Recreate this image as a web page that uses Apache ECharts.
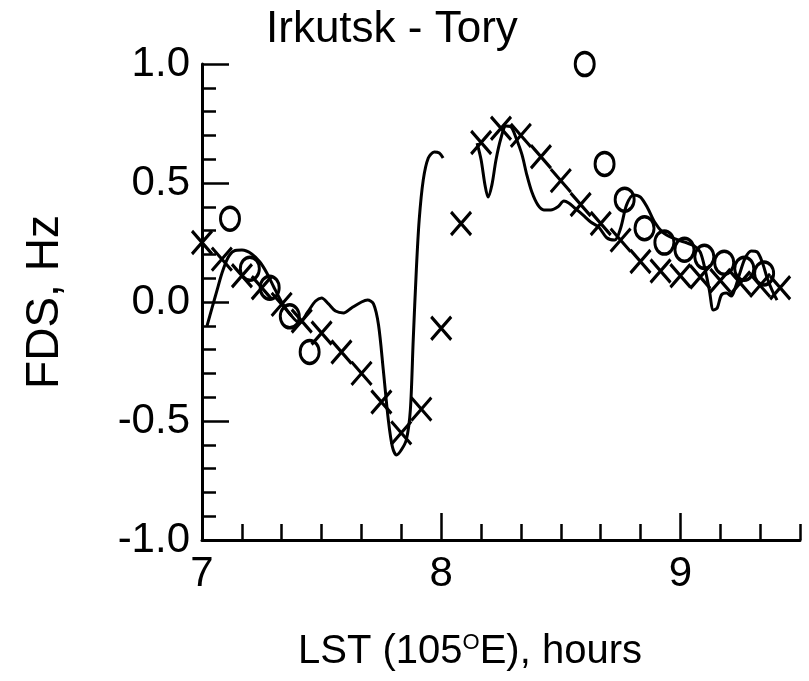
<!DOCTYPE html>
<html>
<head>
<meta charset="utf-8">
<script src="https://cdn.jsdelivr.net/npm/echarts@6/dist/echarts.min.js"></script>
<style>
html,body{margin:0;padding:0;background:#fff;}
#chart{width:809px;height:681px;}
</style>
</head>
<body>
<div id="chart"></div>
<script>
// ---- data ----
var titleText = 'Irkutsk - Tory';
var xTickLabels = [7, 8, 9];
var yTickValues = [-1.0, -0.5, 0.0, 0.5, 1.0];

// "X" observations (LST hours, FDS Hz)
var xMarkT = [7.000, 7.083, 7.167, 7.250, 7.333, 7.417, 7.500, 7.583, 7.667, 7.750,
              7.833, 7.917, 8.000, 8.083, 8.167, 8.250, 8.333, 8.417, 8.500, 8.583,
              8.667, 8.750, 8.833, 8.917, 9.000, 9.083, 9.167, 9.250, 9.333, 9.417];
var xMarkV = [0.25, 0.18, 0.11, 0.06, -0.01, -0.08, -0.13, -0.21, -0.30, -0.42,
              -0.55, -0.45, -0.11, 0.33, 0.67, 0.73, 0.70, 0.61, 0.51, 0.41,
              0.33, 0.26, 0.17, 0.13, 0.11, 0.105, 0.09, 0.08, 0.07, 0.06];

// "O" observations
var oMarkT = [7.117, 7.200, 7.283, 7.367, 7.450,
              8.600, 8.683, 8.767, 8.850, 8.933, 9.017, 9.100, 9.183, 9.267, 9.350];
var oMarkV = [0.35, 0.14, 0.06, -0.06, -0.21,
              1.00, 0.58, 0.43, 0.31, 0.25, 0.22, 0.19, 0.165, 0.14, 0.12];

// model curve, segment 1
var curve1T = [7.021, 7.042, 7.063, 7.083, 7.108, 7.133, 7.167, 7.208, 7.242, 7.271,
               7.300, 7.333, 7.367, 7.408, 7.442, 7.475, 7.500, 7.529, 7.558, 7.592,
               7.625, 7.667, 7.692, 7.717, 7.738, 7.758, 7.779, 7.796, 7.813, 7.833,
               7.854, 7.871, 7.883, 7.896, 7.908, 7.925, 7.946, 7.971, 7.992, 8.008];
var curve1V = [-0.10, -0.025, 0.05, 0.12, 0.185, 0.214, 0.218, 0.202, 0.168, 0.122,
               0.063, 0.0, -0.05, -0.088, -0.042, 0.004, 0.017, -0.008, -0.038, -0.046,
               -0.025, 0.0, 0.008, -0.008, -0.097, -0.286, -0.496, -0.609, -0.643, -0.622,
               -0.58, -0.454, -0.16, 0.134, 0.345, 0.513, 0.605, 0.63, 0.626, 0.605];
// model curve, segment 2
var curve2T = [8.150, 8.167, 8.183, 8.196, 8.212, 8.229, 8.250, 8.271, 8.292, 8.313,
               8.338, 8.358, 8.379, 8.404, 8.429, 8.458, 8.488, 8.513, 8.533, 8.558,
               8.592, 8.625, 8.658, 8.692, 8.725, 8.750, 8.775, 8.804, 8.833, 8.863,
               8.892, 8.925, 8.967, 9.017, 9.058, 9.083, 9.104, 9.121, 9.138, 9.154,
               9.171, 9.192, 9.213, 9.229, 9.250, 9.271, 9.296, 9.321, 9.342, 9.363,
               9.383, 9.404];
var curve2V = [0.668, 0.597, 0.492, 0.441, 0.492, 0.597, 0.689, 0.739, 0.735, 0.689,
               0.618, 0.534, 0.462, 0.408, 0.387, 0.387, 0.40, 0.424, 0.416, 0.395,
               0.366, 0.336, 0.315, 0.27, 0.26, 0.31, 0.408, 0.45, 0.441, 0.395,
               0.336, 0.294, 0.269, 0.252, 0.235, 0.21, 0.134, 0.05, -0.034, -0.025,
               0.029, 0.038, 0.025, 0.059, 0.126, 0.185, 0.214, 0.21, 0.168, 0.10,
               0.05, 0.008];

// ---- build ----
function zip(a, b) { return a.map(function (v, i) { return [v, b[i]]; }); }
var curveData = zip(curve1T, curve1V).concat([[null, null]]).concat(zip(curve2T, curve2V));

var X_MIN = 7, X_MAX = 9.5;
var minorXTicks = [];
for (var i = 1; i < 6 * (X_MAX - X_MIN) + 0.5; i++) {
  if (i % 6 !== 0) minorXTicks.push(+(X_MIN + i / 6).toFixed(4));
}

var FONT = 'Liberation Sans, Arial, sans-serif';
var chart = echarts.init(document.getElementById('chart'), null, {renderer: 'canvas'});
chart.setOption({
  animation: false,
  backgroundColor: '#fff',
  title: {
    text: titleText,
    left: 261, top: 3,
    textStyle: {fontFamily: FONT, fontSize: 44, fontWeight: 'normal', color: '#000'}
  },
  grid: {left: 202, right: 9, top: 64, bottom: 141, containLabel: false},
  xAxis: [{
    type: 'value', min: X_MIN, max: X_MAX,
    name: '{t|LST (105}{s|O}{t|E), hours}',
    nameLocation: 'middle', nameGap: 92,
    nameTextStyle: {
      padding: [0, 62, 0, 0],
      rich: {
        t: {fontFamily: FONT, fontSize: 40, color: '#000'},
        s: {fontFamily: FONT, fontSize: 22, color: '#000', verticalAlign: 'top', padding: [0, 0, 16, 0]}
      }
    },
    axisLine: {show: true, onZero: false, lineStyle: {color: '#000', width: 3}},
    axisTick: {show: true, inside: true, length: 27, customValues: xTickLabels, lineStyle: {color: '#000', width: 2.5}},
    axisLabel: {show: true, customValues: xTickLabels, margin: 13, fontFamily: FONT, fontSize: 42, color: '#000'},
    splitLine: {show: false}
  }, {
    type: 'value', min: X_MIN, max: X_MAX, position: 'bottom',
    axisLine: {show: false, onZero: false},
    axisTick: {show: true, inside: true, length: 16, customValues: minorXTicks, lineStyle: {color: '#000', width: 2.5}},
    axisLabel: {show: false},
    splitLine: {show: false}
  }],
  yAxis: {
    type: 'value', min: -1, max: 1, interval: 0.5,
    name: 'FDS, Hz', nameLocation: 'middle', nameGap: 134,
    nameTextStyle: {fontFamily: FONT, fontSize: 46, color: '#000'},
    axisLine: {show: true, onZero: false, lineStyle: {color: '#000', width: 3}},
    axisTick: {show: true, inside: true, length: 27, lineStyle: {color: '#000', width: 2.5}},
    minorTick: {show: true, splitNumber: 5, length: 14, lineStyle: {color: '#000', width: 2.5}},
    axisLabel: {margin: 12, fontFamily: FONT, fontSize: 42, color: '#000',
      formatter: function (v) { return v.toFixed(1); }},
    splitLine: {show: false}, minorSplitLine: {show: false}
  },
  series: [{
    type: 'line', name: 'model', xAxisIndex: 0, data: curveData,
    showSymbol: false, symbol: 'none', connectNulls: false, smooth: 0.3,
    lineStyle: {color: '#000', width: 3}, z: 2
  }, {
    type: 'scatter', name: 'X', xAxisIndex: 0, data: zip(xMarkT, xMarkV),
    symbol: 'path://M0 0L20 22M20 0L0 22', symbolSize: [20, 23], symbolKeepAspect: false,
    itemStyle: {color: 'rgba(0,0,0,0)', borderColor: '#000', borderWidth: 3.2, opacity: 1}, z: 3
  }, {
    type: 'scatter', name: 'O', xAxisIndex: 0, data: zip(oMarkT, oMarkV),
    symbol: 'path://M10 0A10 12 0 1 1 10 24A10 12 0 1 1 10 0Z', symbolSize: [19, 23], symbolKeepAspect: false,
    itemStyle: {color: 'rgba(0,0,0,0)', borderColor: '#000', borderWidth: 3.2, opacity: 1}, z: 3
  }]
});
</script>
</body>
</html>
